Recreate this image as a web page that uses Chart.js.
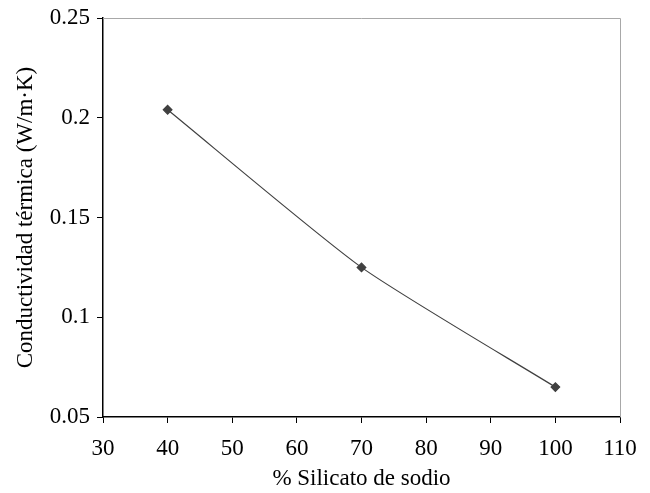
<!DOCTYPE html>
<html>
<head>
<meta charset="utf-8">
<script src="https://cdn.jsdelivr.net/npm/chart.js@4"></script>
<style>
  html, body { margin: 0; padding: 0; background: #fff; }
  #wrap { width: 650px; height: 493px; }
</style>
</head>
<body>
<div id="wrap"><canvas id="myChart" width="650" height="493"></canvas></div>
<script>
// data
var silicato = [40, 70, 100];
var conductividad = [0.204, 0.125, 0.065];
var xTicks = [30, 40, 50, 60, 70, 80, 90, 100, 110];
var yTicks = [0.05, 0.1, 0.15, 0.2, 0.25];

var serif = "'Liberation Serif', 'Times New Roman', serif";

// gray frame on top and right side of plot area
var frame = {
  id: 'frame',
  afterDraw: function (chart) {
    var a = chart.chartArea, c = chart.ctx;
    c.save();
    c.strokeStyle = '#a8a8a8';
    c.lineWidth = 1;
    c.beginPath();
    c.moveTo(a.left, a.top + 0.5);
    c.lineTo(a.right + 0.5, a.top + 0.5);
    c.lineTo(a.right + 0.5, a.bottom);
    c.stroke();
    c.restore();
  }
};

var ctx = document.getElementById("myChart");
var myChart = new Chart(ctx, {
  type: 'line',
  data: {
    datasets: [{
      data: silicato.map(function (x, i) { return { x: x, y: conductividad[i] }; }),
      borderColor: '#404040',
      backgroundColor: '#404040',
      borderWidth: 1.2,
      pointStyle: 'rectRot',
      pointRadius: 4.3,
      pointHoverRadius: 4.3,
      tension: 0.2,
      fill: false
    }]
  },
  options: {
    responsive: false,
    animation: false,
    layout: { padding: { top: 18, right: 30, left: 0, bottom: 0 } },
    plugins: { legend: { display: false }, tooltip: { enabled: false } },
    scales: {
      x: {
        type: 'linear',
        min: 30, max: 110,
        afterBuildTicks: function (s) { s.ticks = xTicks.map(function (v) { return { value: v }; }); },
        afterFit: function (s) { s.height = 76; },
        grid: { drawOnChartArea: false, drawTicks: true, tickLength: 6, color: '#000' },
        border: { color: '#000', width: 1.5 },
        ticks: { color: '#000', font: { family: serif, size: 23 }, padding: 12, maxRotation: 0 },
        title: { display: true, text: '% Silicato de sodio', color: '#000', font: { family: serif, size: 23 }, padding: { top: 4, bottom: 0 } }
      },
      y: {
        min: 0.05, max: 0.25,
        afterBuildTicks: function (s) { s.ticks = yTicks.map(function (v) { return { value: v }; }); },
        afterFit: function (s) { s.width = 103; s.paddingTop = 0; s.paddingBottom = 0; },
        grid: { drawOnChartArea: false, drawTicks: true, tickLength: 6, color: '#000' },
        border: { color: '#000', width: 1.5 },
        ticks: {
          color: '#000', font: { family: serif, size: 23 }, padding: 7,
          callback: function (v) { return String(+v.toFixed(2)); }
        },
        title: { display: true, text: 'Conductividad térmica (W/m·K)', color: '#000', font: { family: serif, size: 23 }, padding: { top: 12, bottom: 0 } }
      }
    }
  },
  plugins: [frame]
});
</script>
</body>
</html>
